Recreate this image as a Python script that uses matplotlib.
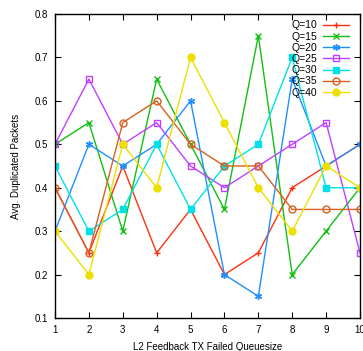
import matplotlib
matplotlib.use("Agg")
import matplotlib.pyplot as plt

plt.rcParams['font.family'] = ['Liberation Sans', 'DejaVu Sans']

# ---------- data ----------
queuesize = [1, 2, 3, 4, 5, 6, 7, 8, 9, 10]
labels = ["Q=10", "Q=15", "Q=20", "Q=25", "Q=30", "Q=35", "Q=40"]
q10 = [0.40, 0.25, 0.45, 0.25, 0.35, 0.20, 0.25, 0.40, 0.45, 0.50]
q15 = [0.50, 0.55, 0.30, 0.65, 0.50, 0.35, 0.75, 0.20, 0.30, 0.40]
q20 = [0.30, 0.50, 0.45, 0.50, 0.60, 0.20, 0.15, 0.65, 0.45, 0.50]
q25 = [0.50, 0.65, 0.50, 0.55, 0.45, 0.40, 0.45, 0.50, 0.55, 0.25]
q30 = [0.45, 0.30, 0.35, 0.50, 0.35, 0.45, 0.50, 0.70, 0.40, 0.40]
q35 = [0.40, 0.25, 0.55, 0.60, 0.50, 0.45, 0.45, 0.35, 0.35, 0.35]
q40 = [0.30, 0.20, 0.50, 0.40, 0.70, 0.55, 0.40, 0.30, 0.45, 0.40]
yticks = [0.1, 0.2, 0.3, 0.4, 0.5, 0.6, 0.7, 0.8]

# gnuplot-like styles: colour, marker, filled?
styles = [
    ("#ff3010", "+", True),
    ("#10c010", "x", True),
    ("#2090ff", (6, 2, 0), True),
    ("#c040ff", "s", False),
    ("#00e0e8", "s", True),
    ("#d86020", "o", False),
    ("#ece000", "o", True),
]

fig = plt.figure(figsize=(3.63, 3.51), dpi=100)
ax = fig.add_axes([55/363, 1 - 318/351, 305/363, 304/351])

for ys, lab, (c, m, filled) in zip([q10, q15, q20, q25, q30, q35, q40], labels, styles):
    ax.plot(queuesize, ys, color=c, lw=1.0, marker=m, ms=5 if m != "s" else 4.5,
            mfc=c if filled else "none", mec=c, mew=1.0, label=lab)

ax.set_xlim(1, 10)
ax.set_ylim(0.1, 0.8)
ax.set_xticks(queuesize)
ax.set_yticks(yticks)
ax.set_yticklabels([f"{v:.1f}" for v in yticks])
ax.tick_params(direction="in", top=True, right=True, labelsize=7, length=4, width=0.8, pad=5)
for s in ax.spines.values():
    s.set_linewidth(1.0)

ax.set_xlabel("L2 Feedback TX Failed Queuesize", fontsize=7, labelpad=5)
ax.set_ylabel("Avg. Duplicated Packets", fontsize=7, labelpad=10)

ax.legend(loc="upper right", frameon=False, markerfirst=False, fontsize=7.5,
          handlelength=2.5, labelspacing=0.12, borderaxespad=0.2, handletextpad=0.6,
          bbox_to_anchor=(0.985, 1.0))

fig.savefig("out.png", dpi=100)
